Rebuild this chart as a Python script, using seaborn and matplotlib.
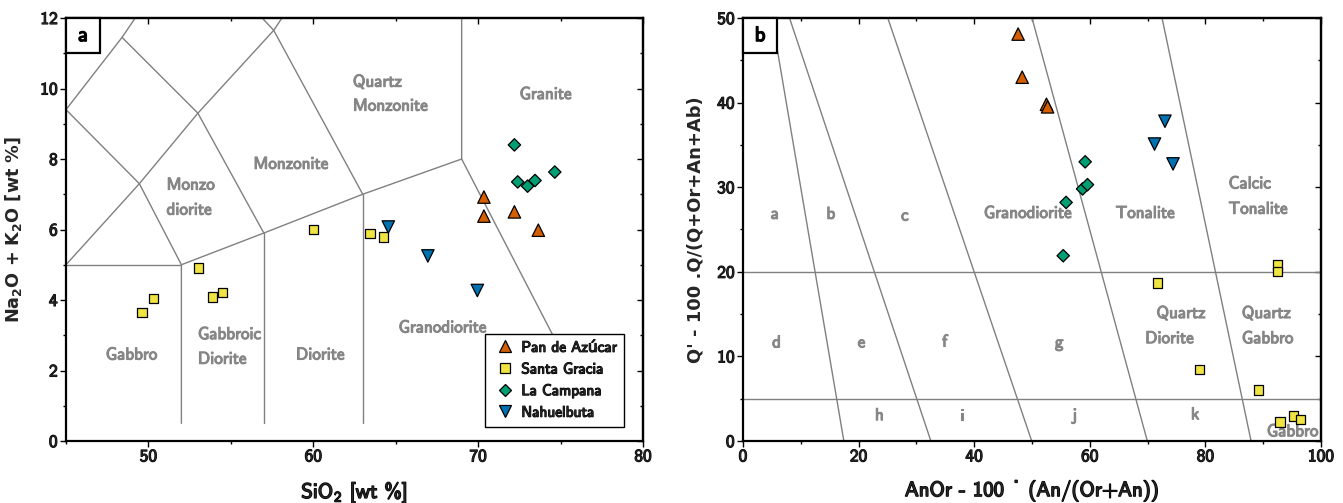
import numpy as np
import pandas as pd
import matplotlib
matplotlib.use("Agg")
import matplotlib.pyplot as plt
import matplotlib.patheffects as pe
from matplotlib.patches import Rectangle
from matplotlib.ticker import MultipleLocator, FixedLocator, NullFormatter
import seaborn as sns

# ---------------- data ----------------
series_names = ["Pan de Azúcar", "Santa Gracia", "La Campana", "Nahuelbuta"]
series_colors = ["#D55E00", "#F0E442", "#009E73", "#0072B2"]
series_markers = ["^", "s", "D", "v"]
series_sizes = [80, 46, 40, 80]

# (a) TAS: SiO2 vs Na2O+K2O
pda_sio2 = [70.35, 70.35, 72.2, 73.65]
pda_alk = [6.92, 6.38, 6.50, 5.98]
sg_sio2 = [49.6, 50.3, 53.05, 53.9, 54.5, 60.0, 63.45, 64.25]
sg_alk = [3.64, 4.05, 4.91, 4.08, 4.22, 6.0, 5.88, 5.79]
lc_sio2 = [72.2, 72.4, 73.0, 73.45, 74.65]
lc_alk = [8.40, 7.35, 7.23, 7.39, 7.63]
nb_sio2 = [64.55, 66.95, 69.95]
nb_alk = [6.07, 5.25, 4.27]

# (b) Q' - ANOR
pda_anor = [47.6, 48.3, 52.5, 52.7]
pda_q = [48.1, 43.0, 39.8, 39.5]
sg_anor = [71.7, 92.45, 92.45, 79.0, 89.2, 92.9, 95.2, 96.5]
sg_q = [18.7, 20.8, 20.05, 8.45, 6.05, 2.25, 2.95, 2.55]
lc_anor = [59.2, 58.75, 59.6, 55.9, 55.4]
lc_q = [33.0, 29.8, 30.3, 28.2, 21.9]
nb_anor = [73.0, 71.2, 74.4]
nb_q = [37.8, 35.1, 32.75]

# field boundaries (diagram definitions)
tas_boundaries = [
    [(45, 5), (52, 5)],
    [(52, 0.5), (52, 5), (57, 5.9), (63, 7), (69, 8)],
    [(57, 0.5), (57, 5.9)],
    [(63, 0.5), (63, 7)],
    [(69, 12), (69, 8), (77.3, 0.5)],
    [(45, 5), (49.45, 7.3), (53, 9.3), (57.6, 11.65), (58.1, 12)],
    [(45, 9.4), (49.45, 7.3), (52, 5)],
    [(45, 9.4), (48.4, 11.45), (49.2, 12)],
    [(48.4, 11.45), (53, 9.3), (57, 5.9)],
    [(56.9, 12), (57.6, 11.65), (63, 7)],
]
qanor_horizontal = [5, 20]
qanor_diagonals = [
    [(5.0, 50), (17.45, 0)],
    [(8.05, 50), (32.5, 0)],
    [(25.05, 50), (49.95, 0)],
    [(50.0, 50), (69.95, 0)],
    [(72.5, 50), (87.9, 0)],
]

tas_df = pd.concat([
    pd.DataFrame({"x": pda_sio2, "y": pda_alk, "Suite": series_names[0]}),
    pd.DataFrame({"x": sg_sio2, "y": sg_alk, "Suite": series_names[1]}),
    pd.DataFrame({"x": lc_sio2, "y": lc_alk, "Suite": series_names[2]}),
    pd.DataFrame({"x": nb_sio2, "y": nb_alk, "Suite": series_names[3]}),
], ignore_index=True)
qa_df = pd.concat([
    pd.DataFrame({"x": pda_anor, "y": pda_q, "Suite": series_names[0]}),
    pd.DataFrame({"x": sg_anor, "y": sg_q, "Suite": series_names[1]}),
    pd.DataFrame({"x": lc_anor, "y": lc_q, "Suite": series_names[2]}),
    pd.DataFrame({"x": nb_anor, "y": nb_q, "Suite": series_names[3]}),
], ignore_index=True)

# ---------------- style ----------------
sns.set_theme(style="ticks")
plt.rcParams["font.family"] = ["cmss10", "DejaVu Sans"]
plt.rcParams["mathtext.fontset"] = "custom"
plt.rcParams["mathtext.rm"] = "cmss10"
plt.rcParams["mathtext.it"] = "cmss10"
plt.rcParams["mathtext.bf"] = "cmss10"
plt.rcParams["axes.unicode_minus"] = False
plt.rcParams["axes.formatter.use_mathtext"] = False

GRAY_LINE = "#808080"
GRAY_TEXT = "#868686"


def bold(color, w=0.7):
    return [pe.withStroke(linewidth=w, foreground=color)]


fig = plt.figure(figsize=(13.43, 5.03), dpi=100)
ax1 = fig.add_axes([66 / 1343, 62 / 503, 577 / 1343, 423 / 503])
ax2 = fig.add_axes([743 / 1343, 62 / 503, 578 / 1343, 423 / 503])

palette = dict(zip(series_names, series_colors))
markers = dict(zip(series_names, series_markers))
sizes = dict(zip(series_names, series_sizes))

for ax, df in ((ax1, tas_df), (ax2, qa_df)):
    sns.scatterplot(data=df, x="x", y="y", hue="Suite", style="Suite",
                    size="Suite", palette=palette, markers=markers,
                    sizes=sizes, hue_order=series_names,
                    style_order=series_names, size_order=series_names,
                    edgecolor="black", linewidth=0.9, ax=ax, zorder=4,
                    legend=(ax is ax1))

# boundaries
for seg in tas_boundaries:
    xs, ys = zip(*seg)
    ax1.plot(xs, ys, color=GRAY_LINE, lw=1.0, zorder=1)
for yv in qanor_horizontal:
    ax2.axhline(yv, color=GRAY_LINE, lw=1.0, zorder=1)
for seg in qanor_diagonals:
    xs, ys = zip(*seg)
    ax2.plot(xs, ys, color=GRAY_LINE, lw=1.0, zorder=1)

# field labels
fs_lab = 12.3


def flabel(ax, x, y, s, ha="center"):
    ax.text(x, y, s, ha=ha, va="center", color=GRAY_TEXT, fontsize=fs_lab,
            path_effects=bold(GRAY_TEXT, 0.8), zorder=2)


flabel(ax1, 62.4, 10.18, "Quartz", ha="left")
flabel(ax1, 62.4, 9.50, "Monzonite", ha="left")
flabel(ax1, 74.1, 9.83, "Granite")
flabel(ax1, 58.64, 7.85, "Monzonite")
flabel(ax1, 51.1, 7.26, "Monzo", ha="left")
flabel(ax1, 51.1, 6.55, "diorite", ha="left")
flabel(ax1, 48.98, 2.44, "Gabbro")
flabel(ax1, 53.0, 3.02, "Gabbroic", ha="left")
flabel(ax1, 53.0, 2.32, "Diorite", ha="left")
flabel(ax1, 60.43, 2.44, "Diorite")
flabel(ax1, 67.85, 3.21, "Granodiorite")

for x, y, s in [(5.5, 26.8, "a"), (15.2, 26.8, "b"), (28.0, 26.6, "c"),
                (5.8, 11.6, "d"), (20.5, 11.6, "e"), (34.9, 11.7, "f"),
                (54.7, 11.6, "g"), (23.6, 3.0, "h"), (37.9, 3.0, "i"),
                (57.4, 3.0, "j"), (78.2, 3.1, "k")]:
    flabel(ax2, x, y, s)
flabel(ax2, 49.3, 26.9, "Granodiorite")
flabel(ax2, 69.6, 26.9, "Tonalite")
flabel(ax2, 84.0, 30.4, "Calcic", ha="left")
flabel(ax2, 84.0, 27.4, "Tonalite", ha="left")
flabel(ax2, 75.8, 15.07, "Quartz")
flabel(ax2, 73.8, 12.1, "Diorite")
flabel(ax2, 86.3, 15.07, "Quartz", ha="left")
flabel(ax2, 86.3, 12.1, "Gabbro", ha="left")
flabel(ax2, 95.1, 1.1, "Gabbro")

# axes limits / ticks
ax1.set_xlim(45, 80)
ax1.set_ylim(0, 12)
ax2.set_xlim(0, 100)
ax2.set_ylim(0, 50)
tick_setup = {
    ax1: ([50, 60, 70, 80], 5, 2, 1),
    ax2: (list(range(0, 101, 20)), 10, 10, 5),
}
for ax, (xmaj, xmin, ymaj, ymin) in tick_setup.items():
    ax.xaxis.set_major_locator(FixedLocator(xmaj))
    ax.xaxis.set_minor_locator(MultipleLocator(xmin))
    ax.yaxis.set_major_locator(MultipleLocator(ymaj))
    ax.yaxis.set_minor_locator(MultipleLocator(ymin))
    ax.tick_params(which="both", direction="out", width=1.0, color="black",
                   labelsize=12.5, pad=2)
    ax.tick_params(which="major", length=4)
    ax.tick_params(which="minor", length=2.5)
    # inward ticks on top and right
    sx = ax.secondary_xaxis("top")
    sx.xaxis.set_major_locator(FixedLocator(xmaj))
    sx.xaxis.set_minor_locator(MultipleLocator(xmin))
    sx.xaxis.set_major_formatter(NullFormatter())
    sx.tick_params(which="both", direction="in", width=1.0, color="black")
    sx.tick_params(which="major", length=4)
    sx.tick_params(which="minor", length=2.5)
    sx.spines["top"].set_linewidth(1.6)
    sy = ax.secondary_yaxis("right")
    sy.yaxis.set_major_locator(MultipleLocator(ymaj))
    sy.yaxis.set_minor_locator(MultipleLocator(ymin))
    sy.yaxis.set_major_formatter(NullFormatter())
    sy.tick_params(which="both", direction="in", width=1.0, color="black")
    sy.tick_params(which="major", length=4)
    sy.tick_params(which="minor", length=2.5)
    sy.spines["right"].set_linewidth(1.6)

for ax, tag in ((ax1, "a"), (ax2, "b")):
    for sp in ax.spines.values():
        sp.set_linewidth(1.6)
        sp.set_color("black")
        sp.set_zorder(6)
    for lab in ax.get_xticklabels() + ax.get_yticklabels():
        lab.set_path_effects(bold("black", 0.8))
    ax.add_patch(Rectangle((0, 1 - 0.083), 0.059, 0.083, transform=ax.transAxes,
                           facecolor="white", edgecolor="black", lw=1.6,
                           zorder=7, clip_on=False))
    ax.text(0.0295, 1 - 0.0415, tag, transform=ax.transAxes, ha="center",
            va="center", fontsize=15, color="black", zorder=8,
            path_effects=bold("black", 1.0))
    ax.grid(False)

ax1.set_xlabel("SiO$_2$ [wt %]", fontsize=15, labelpad=11,
               path_effects=bold("black", 1.0))
ax1.set_ylabel(r"Na$_\mathbf{2}$O + K$_\mathbf{2}$O [wt %]",
               fontfamily="DejaVu Sans", fontweight="bold", fontsize=12.7,
               labelpad=12, math_fontfamily="dejavusans")
ax2.set_xlabel("AnOr - 100 \u02d9 (An/(Or+An))", fontsize=15, labelpad=11,
               path_effects=bold("black", 1.0))
ax2.set_ylabel("Q' - 100 .Q/(Q+Or+An+Ab)", fontfamily="DejaVu Sans",
               fontweight="bold", fontsize=12.9, labelpad=9)

# legend
handles, labels = ax1.get_legend_handles_labels()
leg = ax1.legend(handles, labels, loc="lower right",
                 bbox_to_anchor=(0.967, 0.034), frameon=True, fancybox=False,
                 framealpha=1, edgecolor="black", fontsize=11,
                 borderpad=0.45, labelspacing=0.5, handletextpad=0.3,
                 handlelength=1.6, borderaxespad=0)
leg.get_frame().set_linewidth(1.0)
leg.set_zorder(5)
for txt in leg.get_texts():
    txt.set_path_effects(bold("black", 0.8))

fig.savefig("out.png", dpi=100)
